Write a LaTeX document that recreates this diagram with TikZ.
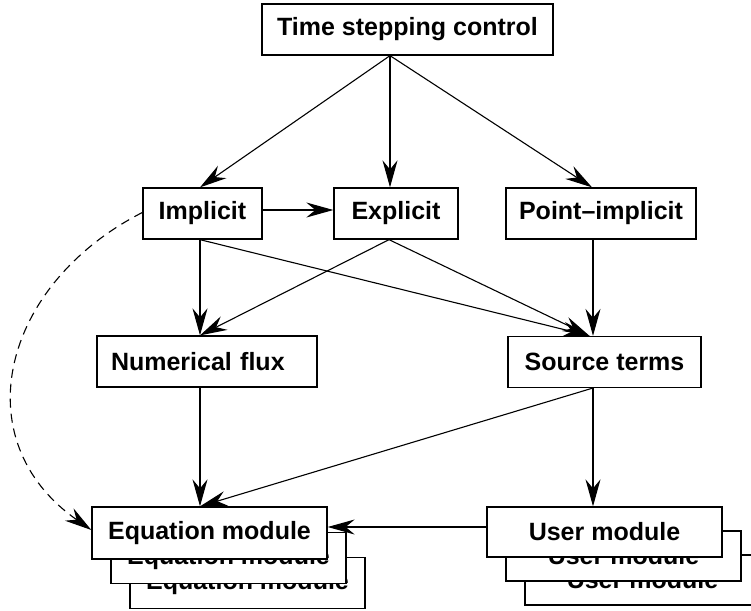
\documentclass[tikz,border=0pt]{standalone}
\usepackage{fontspec}
\setmainfont{Liberation Sans}
\usetikzlibrary{arrows.meta, positioning, calc}

\begin{document}
\begin{tikzpicture}[x=1pt, y=-1pt,
  box/.style={draw, fill=white, line width=1.3pt, inner sep=0pt, minimum height=51pt,
    font=\fontsize{25}{30}\selectfont\bfseries},
  arr/.style={-{Stealth[length=27pt, width=15pt, inset=9pt]}, line width=1.1pt},
  dasharr/.style={arr, dash pattern=on 9pt off 6pt}]
  \clip (0,0) rectangle (751,610);
  % top level
  \node[box, minimum width=291pt] (tsc) at (407.5,29.5) {Time stepping control};
  % solvers
  \node[box, minimum width=119pt] (impl) at (202.5,213.5) {Implicit};
  \node[box, minimum width=124pt] (expl) at (396,213.5) {Explicit};
  \node[box, minimum width=190pt] (pimp) at (601,213.5) {Point--implicit};
  % flux and sources
  \node[box, text width=192pt, inner xsep=14pt, align=left] (nflux) at (207,361.5) {Numerical flux};
  \node[box, minimum width=193pt] (src) at (604.5,362) {Source terms};
  % module stacks, back to front
  \node[box, minimum width=235pt] (eqc) at (247.5,583) {Equation module};
  \node[box, minimum width=235pt] (eqb) at (228.5,558) {Equation module};
  \node[box, minimum width=235pt, minimum height=52pt] (eq) at (209.5,533) {Equation module};
  \node[box, minimum width=235pt, minimum height=50pt] (usrc) at (642.5,580) {User module};
  \node[box, minimum width=235pt, minimum height=50pt] (usrb) at (623.5,556) {User module};
  \node[box, minimum width=235pt, minimum height=50pt] (usr) at (604.5,532) {User module};
  % connectors
  \draw[arr] ([xshift=-17.5pt]tsc.south) -- ([xshift=-2.5pt]impl.north);
  \draw[arr] ([xshift=-17.5pt]tsc.south) -- ([xshift=-6pt]expl.north);
  \draw[arr] ([xshift=-17.5pt]tsc.south) -- ([xshift=-9pt]pimp.north);
  \draw[arr] ([yshift=3.5pt]impl.east) -- ([yshift=3.5pt]expl.west);
  \draw[arr] ([xshift=-2.5pt]impl.south) -- ([xshift=-7pt]nflux.north);
  \draw[arr] ([xshift=-2.5pt]impl.south) -- ([xshift=-15pt]src.north);
  \draw[arr] ([xshift=-7pt]expl.south) -- ([xshift=-7pt]nflux.north);
  \draw[arr] ([xshift=-7pt]expl.south) -- ([xshift=-15pt]src.north);
  \draw[arr] ([xshift=-8pt]pimp.south) -- ([xshift=-11.5pt]src.north);
  \draw[arr] ([xshift=-7pt]nflux.south) -- ([xshift=-9.5pt]eq.north);
  \draw[arr] ([xshift=-12pt]src.south) -- ([xshift=-9.5pt]eq.north);
  \draw[arr] ([xshift=-11.5pt]src.south) -- ([xshift=-11.5pt]usr.north);
  \draw[arr] ([yshift=5pt]usr.west) -- ([yshift=6pt]eq.east);
  \draw[dasharr] ([yshift=1pt]impl.west) to[out=207, in=145, looseness=1.25] ([yshift=3pt]eq.west);
\end{tikzpicture}
\end{document}
